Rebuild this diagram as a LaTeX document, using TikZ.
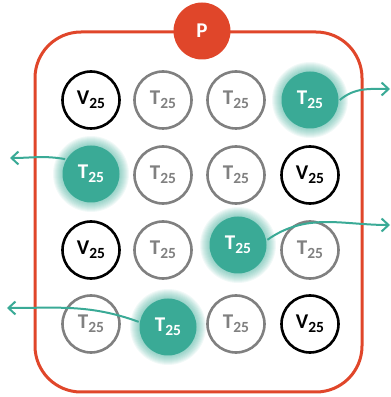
\documentclass[tikz,border=0pt]{standalone}
\usepackage{fontspec}
\setmainfont{Carlito}
\usetikzlibrary{arrows.meta}

\definecolor{boxred}{HTML}{E0462A}
\definecolor{tealfill}{HTML}{3AAA96}
\definecolor{cellgray}{HTML}{808080}

\newcommand{\cellname}[1]{\bfseries #1\raisebox{-4pt}{\fontsize{15.5}{16}\selectfont 25}}

\tikzset{
    cell/.style={circle, minimum size=57pt, inner sep=0pt, line width=2.6pt,
        font=\fontsize{21}{22}\selectfont},
    vcell/.style={cell, draw=black},
    tcell/.style={cell, draw=cellgray, text=cellgray},
    tfcell/.style={cell, fill=tealfill, text=white},
    flow/.style={draw=tealfill, line width=2pt,
        -{Straight Barb[length=7pt,width=13pt]}}
}

\begin{document}
\begin{tikzpicture}[x=1pt,y=1pt]
    \useasboundingbox (0,0) rectangle (391,397);
    \draw[boxred, line width=3pt, rounded corners=46pt] (35,5) rectangle (362,365);
    \node[circle, fill=boxred, minimum size=57pt, text=white,
        font=\fontsize{21}{22}\selectfont\bfseries] (p) at (202,366) {P};

    % glow behind the moving cells
    \foreach \x/\y in {310/297, 91/223, 238/152, 168/70}
        \foreach \r in {29,30,...,38}
            {\fill[tealfill, opacity=0.07] (\x,\y) circle (\r);}

    \foreach \n/\x/\y in {c11/91/297, c24/310/222, c31/91/147, c44/310/73}
        {\node[vcell] (\n) at (\x,\y) {\cellname{V}};}
    \foreach \n/\x/\y in {c12/163/297, c13/236/297, c22/163/222, c23/236/222,
                          c32/163/147, c34/310/147, c41/91/73, c43/236/73}
        {\node[tcell] (\n) at (\x,\y) {\cellname{T}};}
    \foreach \n/\x/\y in {c14/310/297, c21/91/223, c33/238/152, c42/168/70}
        {\node[tfcell] (\n) at (\x,\y) {\cellname{T}};}

    \coordinate (out1) at (390,308);
    \coordinate (out2) at (10,239);
    \coordinate (out3) at (390,172);
    \coordinate (out4) at (7,89);

    \draw[flow] (c14.east) to[out=40, in=180] (out1);
    \draw[flow] (c21.150) to[out=170, in=0] (out2);
    \draw[flow] (c33.10) to[out=35, in=180] (out3);
    \draw[flow] (c42.170) to[out=160, in=0] (out4);
\end{tikzpicture}
\end{document}
